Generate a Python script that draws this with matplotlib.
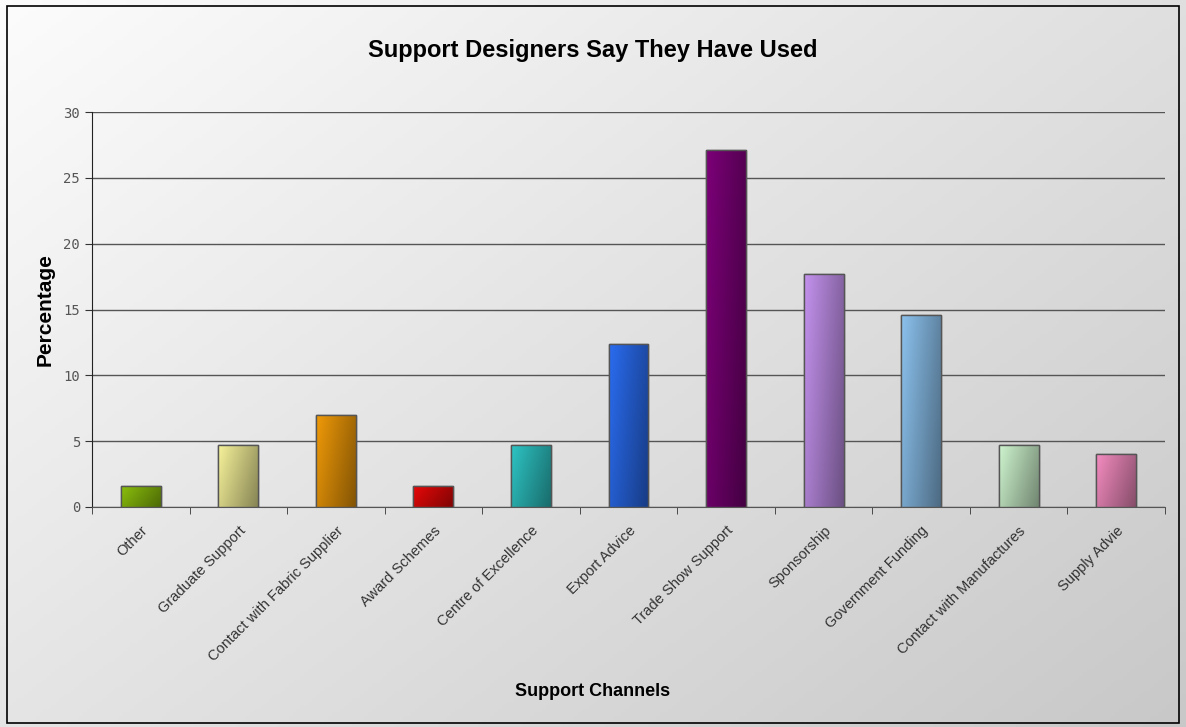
import matplotlib.pyplot as plt
import matplotlib.colors as mcolors
import numpy as np

plt.rcParams['font.family'] = ['Liberation Sans', 'DejaVu Sans']

# chart data
categories = ["Other", "Graduate Support", "Contact with Fabric Supplier", "Award Schemes",
              "Centre of Excellence", "Export Advice", "Trade Show Support", "Sponsorship",
              "Government Funding", "Contact with Manufactures", "Supply Advie"]
values = [1.6, 4.7, 7.0, 1.6, 4.7, 12.4, 27.1, 17.7, 14.6, 4.7, 4.0]
bar_colors = ["#8cc00c", "#f6f29a", "#f09a08", "#e80808", "#2ec4c4", "#2a6cf0",
              "#7c0078", "#c492ee", "#8cc2ee", "#cef4ce", "#f48cc0"]
y_ticks = [0, 5, 10, 15, 20, 25, 30]

fig = plt.figure(figsize=(11.86, 7.27), dpi=100)

# background gradient over the whole figure
bg = fig.add_axes([0, 0, 1, 1], zorder=-10)
yy, xx = np.mgrid[0:1:200j, 0:1:300j]
grad = 0.55 * xx + 0.45 * yy
bg.imshow(grad, cmap=mcolors.LinearSegmentedColormap.from_list("bg", ["#fcfcfc", "#c8c8c8"]),
          extent=[0, 1, 0, 1], aspect="auto", origin="upper")
bg.set_xlim(0, 1)
bg.set_ylim(0, 1)
bg.axis("off")
bg.add_patch(plt.Rectangle((0.006, 0.006), 0.988, 0.986, fill=False, edgecolor="black", lw=1.2))

ax = fig.add_axes([92 / 1186, 1 - 507 / 727, (1165 - 92) / 1186, (507 - 112) / 727])
ax.patch.set_alpha(0)

x = np.arange(len(categories))
bars = ax.bar(x, values, width=0.41, color=bar_colors, edgecolor="#555555", linewidth=1.0, zorder=3)

# shade each bar from light (left) to dark (right)
for rect, col in zip(bars, bar_colors):
    c = np.array(mcolors.to_rgb(col))
    cmap = mcolors.LinearSegmentedColormap.from_list("b", [c, c * 0.55])
    g = np.linspace(0, 1, 64).reshape(1, -1) * 0.7 + np.linspace(0, 0.3, 32).reshape(-1, 1)
    im = ax.imshow(g, cmap=cmap, vmin=0, vmax=1, aspect="auto", zorder=3.5,
                   extent=[rect.get_x(), rect.get_x() + rect.get_width(), 0, rect.get_height()])
    im.set_clip_path(rect)
    ax.add_patch(plt.Rectangle((rect.get_x(), 0), rect.get_width(), rect.get_height(),
                               fill=False, edgecolor="#555555", lw=1.0, zorder=4))

ax.set_xlim(-0.5, len(categories) - 0.5)
ax.set_ylim(0, 30)
ax.set_yticks(y_ticks)
ax.yaxis.grid(True, color="#555555", linewidth=1.0, zorder=1)
ax.set_axisbelow(True)

ax.set_xticks(x)
ax.set_xticklabels(categories, rotation=45, ha="right", rotation_mode="anchor",
                   fontsize=10.5, color="#333333")
ax.set_xticks(np.arange(len(categories) + 1) - 0.5, minor=True)
ax.tick_params(axis="x", which="major", length=0, pad=12)
ax.tick_params(axis="x", which="minor", length=5, color="#333333")
ax.tick_params(axis="y", length=5, labelsize=10, labelcolor="#555555", color="#333333")
for lbl in ax.get_yticklabels():
    lbl.set_family("DejaVu Sans Mono")

for s in ["top", "right"]:
    ax.spines[s].set_visible(False)
ax.spines["left"].set_color("#222222")
ax.spines["bottom"].set_color("#555555")

ax.set_ylabel("Percentage", fontsize=15, fontweight="bold", labelpad=6)
fig.text(0.5, 1 - 692 / 727, "Support Channels", ha="center", va="center",
         fontsize=13, fontweight="bold")
fig.text(0.5, 1 - 50 / 727, "Support Designers Say They Have Used", ha="center", va="center",
         fontsize=17, fontweight="bold")

fig.savefig("out.png", dpi=100)
